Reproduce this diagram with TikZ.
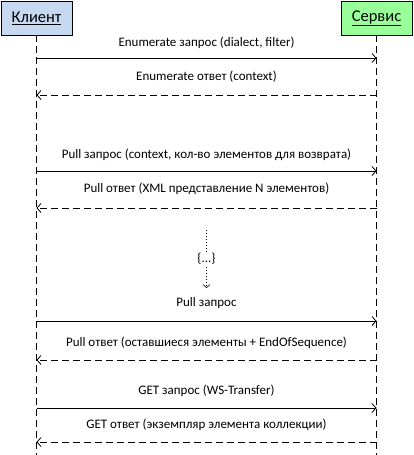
\documentclass[tikz,border=0pt]{standalone}
\usepackage{fontspec}
\setmainfont{Carlito}
\usetikzlibrary{arrows.meta}
\definecolor{clientfill}{RGB}{198,217,241}
\definecolor{servfill}{RGB}{153,255,153}
\tikzset{
  actor/.style={draw=black, line width=0.8pt, minimum width=71pt, minimum height=34pt, inner sep=0pt, font=\fontsize{16.5}{18}\selectfont},
  lifeline/.style={line width=0.8pt, dash pattern=on 7pt off 4pt},
  req/.style={line width=0.8pt, -{Straight Barb[length=4pt,width=9pt,line width=0.8pt]}},
  resp/.style={line width=0.8pt, dash pattern=on 7pt off 4pt, -{Straight Barb[length=4pt,width=9pt,line width=0.8pt]}},
  lbl/.style={font=\fontsize{13}{15}\selectfont, inner sep=0pt},
  dotline/.style={line width=0.6pt, dash pattern=on 1.2pt off 1.8pt}
}
\begin{document}
\begin{tikzpicture}[x=1pt,y=-1pt]
\useasboundingbox (0,0) rectangle (413,455);
\node[actor, fill=clientfill] (client) at (36.5,18) {\underline{Клиент}};
\node[actor, fill=servfill] (serv) at (376.5,18) {\underline{Сервис}};
\coordinate (cend) at (36.5,455);
\coordinate (send) at (376.5,455);
\draw[lifeline] (client.south) -- (cend);
\draw[lifeline] (serv.south) -- (send);
% messages
\foreach \n/\y in {1/58,2/95,3/171,4/208,5/321,6/360,7/408,8/442}{
  \coordinate (c\n) at (36.5,\y);
  \coordinate (s\n) at (376.5,\y);
}
\draw[req] (c1) -- node[lbl, above=15pt, anchor=center] {Enumerate запрос (dialect, filter)} (s1);
\draw[resp] (s2) -- node[lbl, above=18pt, anchor=center] {Enumerate ответ (context)} (c2);
\draw[req] (c3) -- node[lbl, above=16pt, anchor=center] {Pull запрос (context, кол-во элементов для возврата)} (s3);
\draw[resp] (s4) -- node[lbl, above=19pt, anchor=center] {Pull ответ (XML представление N элементов)} (c4);
\draw[req] (c5) -- node[lbl, above=18pt, anchor=center] {Pull запрос} (s5);
\draw[resp] (s6) -- node[lbl, above=17pt, anchor=center] {Pull ответ (оставшиеся элементы + EndOfSequence)} (c6);
\draw[req] (c7) -- node[lbl, above=17pt, anchor=center] {GET запрос (WS-Transfer)} (s7);
\draw[resp] (s8) -- node[lbl, above=17pt, anchor=center] {GET ответ (экземпляр элемента коллекции)} (c8);
% continuation
\coordinate (dtop) at (206.5,230);
\coordinate (dbot) at (206.5,288);
\node[lbl, inner sep=2pt] (dots) at (206.5,259) {\{...\}};
\draw[dotline] (dtop) -- (dots.north);
\draw[dotline, -{Straight Barb[length=3pt,width=7pt,line width=0.6pt]}] (dots.south) -- (dbot);
\end{tikzpicture}
\end{document}
